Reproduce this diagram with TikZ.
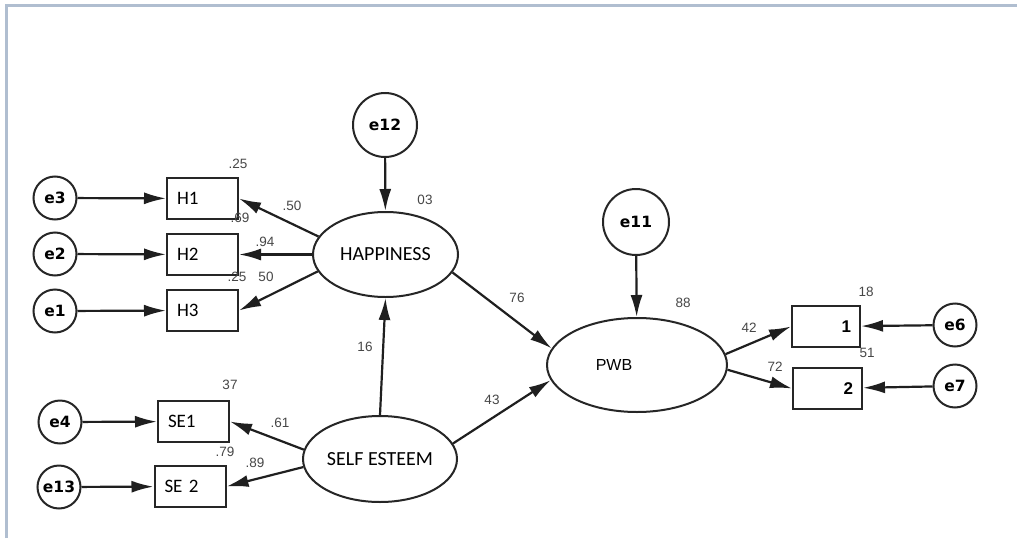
\documentclass[tikz,border=0pt]{standalone}
\usepackage{fontspec}
\setmainfont{Liberation Sans}
\newfontfamily\calfont{Carlito}
\newfontfamily\errfont{DejaVu Sans}
\usetikzlibrary{arrows.meta,shapes.geometric}
\begin{document}
\begin{tikzpicture}[x=1pt,y=-1pt,
  errnode/.style={circle,draw=black!85,line width=2pt,inner sep=0pt,
    font=\errfont\bfseries\fontsize{15.5}{16}\selectfont},
  obsbox/.style={rectangle,draw=black!85,line width=2pt,minimum height=41pt,
    inner ysep=0pt,inner xsep=10pt,font=\calfont\fontsize{19}{20}\selectfont},
  latent/.style={ellipse,draw=black!85,line width=2pt,inner sep=0pt},
  conn/.style={line width=2.2pt,draw=black!88,-{Latex[length=22pt,width=12pt]}},
  num/.style={font=\fontsize{13.5}{14}\selectfont,text=black!72,inner sep=0pt}
]
\useasboundingbox (0,0) rectangle (1017,538);
\fill[white] (0,0) rectangle (1017,538);
\draw[color={rgb,255:red,176;green,190;blue,208},line width=3pt] (6,538) -- (6,5) -- (1017,5);

% error terms
\node[errnode,minimum size=43pt] (e3) at (55,198) {e3};
\node[errnode,minimum size=43pt] (e2) at (55,254) {e2};
\node[errnode,minimum size=43pt] (e1) at (55,311) {e1};
\node[errnode,minimum size=43pt] (e4) at (60,422) {e4};
\node[errnode,minimum size=43pt] (e13) at (59,487) {e13};
\node[errnode,minimum size=64pt] (e12) at (385,125) {e12};
\node[errnode,minimum size=66pt] (e11) at (636,222) {e11};
\node[errnode,minimum size=43pt] (e6) at (955,325) {e6};
\node[errnode,minimum size=43pt] (e7) at (955,386) {e7};

% observed
\node[obsbox,text width=51pt,align=left] (H1) at (202.5,198.5) {H1};
\node[obsbox,text width=51pt,align=left] (H2) at (202.5,254.5) {H2};
\node[obsbox,text width=51pt,align=left] (H3) at (202.5,310.5) {H3};
\node[obsbox,text width=51pt,align=left] (SE1) at (193.5,421.5) {SE1};
\node[obsbox,text width=51pt,align=left] (SE2) at (190,486.5) {SE 2};
\node[obsbox,text width=50pt,align=right,inner xsep=9pt,
  font=\bfseries\fontsize{17}{18}\selectfont] (o1) at (826,326.5) {1};
\node[obsbox,text width=51pt,align=right,inner xsep=9pt,
  font=\bfseries\fontsize{17}{18}\selectfont] (o2) at (827.5,388.5) {2};

% latent
\node[latent,minimum width=145pt,minimum height=85pt,
  font=\calfont\fontsize{20}{21}\selectfont] (hap) at (385.5,254.5) {HAPPINESS};
\node[latent,minimum width=154pt,minimum height=86pt,
  font=\calfont\fontsize{20}{21}\selectfont] (se) at (380,459) {SELF ESTEEM};
\node[latent,minimum width=180pt,minimum height=94pt,
  font=\fontsize{16}{17}\selectfont] (pwb) at (637,365) {PWB\hspace*{46pt}};

% connectors
\draw[conn] (e3) -- (H1);
\draw[conn] (e2) -- (H2);
\draw[conn] (e1) -- (H3);
\draw[conn] (e4) -- (SE1);
\draw[conn] (e13) -- (SE2);
\draw[conn] (e12) -- (hap);
\draw[conn] (e11) -- (pwb);
\draw[conn] (e6) -- (o1);
\draw[conn] (e7) -- (o2);
\draw[conn] (hap.165) -- (H1.east);
\draw[conn] (hap.west) -- (H2.east);
\draw[conn] (hap.194) -- (H3.east);
\draw[conn] (se.173) -- (SE1.east);
\draw[conn] (se.186) -- (SE2.east);
\draw[conn] (se.north) -- (hap.south);
\draw[conn] (hap.-15) -- (pwb.169);
\draw[conn] (se.12) -- (pwb.190);
\draw[conn] (pwb.7) -- (o1.west);
\draw[conn] (pwb.-3) -- (o2.west);

% numbers
\node[num] (n1) at (238,164) {.25};
\node[num] (n2) at (292,206) {.50};
\node[num] (n3) at (240,218) {.69};
\node[num] (n4) at (265,242) {.94};
\node[num] (n5) at (237,277) {.25};
\node[num] (n6) at (266,277) {50};
\node[num] (n7) at (425,200) {03};
\node[num] (n8) at (517,298) {76};
\node[num] (n9) at (683,303) {88};
\node[num] (n10) at (365,347) {16};
\node[num] (n11) at (492,400) {43};
\node[num] (n12) at (230,385) {37};
\node[num] (n13) at (280,423) {.61};
\node[num] (n14) at (225,452) {.79};
\node[num] (n15) at (255,463) {.89};
\node[num] (n16) at (749,328) {42};
\node[num] (n17) at (866,292) {18};
\node[num] (n18) at (867,353) {51};
\node[num] (n19) at (775,367) {72};
\end{tikzpicture}
\end{document}
